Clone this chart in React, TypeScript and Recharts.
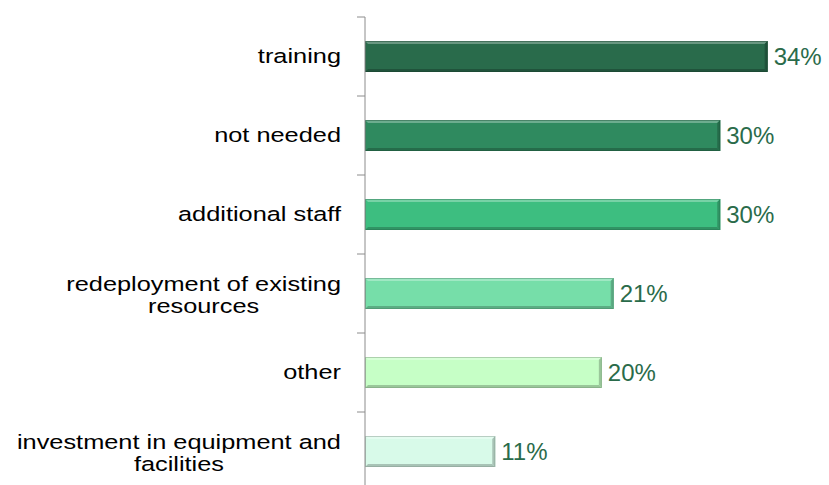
import React from "react";
import { BarChart, Bar, XAxis, YAxis, LabelList, Cell } from "recharts";

const categories = [
  "training",
  "not needed",
  "additional staff",
  "redeployment of existing\nresources",
  "other",
  "investment in equipment and\nfacilities",
];
const shares = [34, 30, 30, 21, 20, 11];

const barColors = ["#296b4b", "#2f8a5f", "#3dbe80", "#76dea9", "#c6ffc6", "#d8fae9"];
const labelColor = "#2a6b4a";
const axisColor = "#8c8c8c";

const W = 829;
const H = 500;
const M = { top: 17, right: 14, bottom: 9, left: 0 };
const AXIS_W = 365;
const BAND = (H - M.top - M.bottom) / categories.length;
const CAT_FONT = 19.5;
const STRETCH = 1.3;

const data = categories.map((name, i) => ({ name, value: shares[i] }));

function mix(hex: string, target: number, amt: number) {
  const n = parseInt(hex.slice(1), 16);
  const c = [(n >> 16) & 255, (n >> 8) & 255, n & 255].map((v) =>
    Math.round(v + (target - v) * amt)
  );
  return `rgb(${c[0]},${c[1]},${c[2]})`;
}

let ctx: CanvasRenderingContext2D | null = null;
function measure(s: string) {
  if (!ctx) ctx = document.createElement("canvas").getContext("2d");
  if (!ctx) return s.length * CAT_FONT * 0.5;
  ctx.font = `${CAT_FONT}px "Liberation Sans", Arial, sans-serif`;
  return ctx.measureText(s).width;
}

function CategoryTick(props: any) {
  const { x, y, payload, index } = props;
  const lines = String(payload.value).split("\n");
  const right = x - 16;
  const widest = Math.max(...lines.map(measure)) * STRETCH;
  const cx = right - widest / 2;
  const base = lines.length === 1 ? [6.5] : [-3, 19.5];
  return (
    <g>
      {lines.map((ln, i) => (
        <text
          key={i}
          transform={`translate(${cx},${y + base[i]}) scale(${STRETCH},1)`}
          textAnchor="middle"
          fontSize={CAT_FONT}
          fill="#000"
          fontFamily='"Liberation Sans", Arial, sans-serif'
        >
          {ln}
        </text>
      ))}
      <line x1={x} x2={x + 8} y1={y - BAND / 2} y2={y - BAND / 2} stroke={axisColor} />
      {index === categories.length - 1 && (
        <line x1={x} x2={x + 8} y1={y + BAND / 2} y2={y + BAND / 2} stroke={axisColor} />
      )}
    </g>
  );
}

function BevelBar(props: any) {
  const { x, y, width, height, fill } = props;
  if (!width || width <= 0) return null;
  const b = 3;
  const light = mix(fill, 255, 0.3);
  const dark = mix(fill, 0, 0.22);
  const edge = mix(fill, 0, 0.4);
  const r = x + width;
  const bt = y + height;
  return (
    <g>
      <rect x={x} y={y} width={width} height={height} fill={fill} />
      <polygon points={`${x},${y} ${r},${y} ${r - b},${y + b} ${x + b},${y + b}`} fill={light} />
      <polygon points={`${x},${bt} ${r},${bt} ${r - b},${bt - b} ${x + b},${bt - b}`} fill={dark} />
      <polygon points={`${r},${y} ${r},${bt} ${r - b},${bt - b} ${r - b},${y + b}`} fill={dark} />
      <rect x={x + 0.5} y={y + 0.5} width={width - 1} height={height - 1} fill="none" stroke={edge} strokeOpacity={0.45} />
    </g>
  );
}

export default function App() {
  return (
    <div style={{ position: "absolute", left: 0, top: 0, width: W, height: 485, overflow: "hidden", background: "#fff" }}>
      <BarChart width={W} height={H} data={data} layout="vertical" margin={M} barSize={31}>
        <XAxis type="number" domain={[0, 38]} hide />
        <YAxis
          type="category"
          dataKey="name"
          width={AXIS_W}
          axisLine={{ stroke: axisColor }}
          tickLine={false}
          tickSize={8}
          tickMargin={0}
          interval={0}
          tick={<CategoryTick />}
        />
        <Bar dataKey="value" isAnimationActive={false} shape={<BevelBar />}>
          {data.map((d, i) => (
            <Cell key={d.name} fill={barColors[i]} />
          ))}
          <LabelList
            dataKey="value"
            position="right"
            offset={6}
            formatter={(v: any) => `${v}%`}
            fill={labelColor}
            fontSize={24}
            fontFamily='"Liberation Sans", Arial, sans-serif'
          />
        </Bar>
      </BarChart>
    </div>
  );
}
